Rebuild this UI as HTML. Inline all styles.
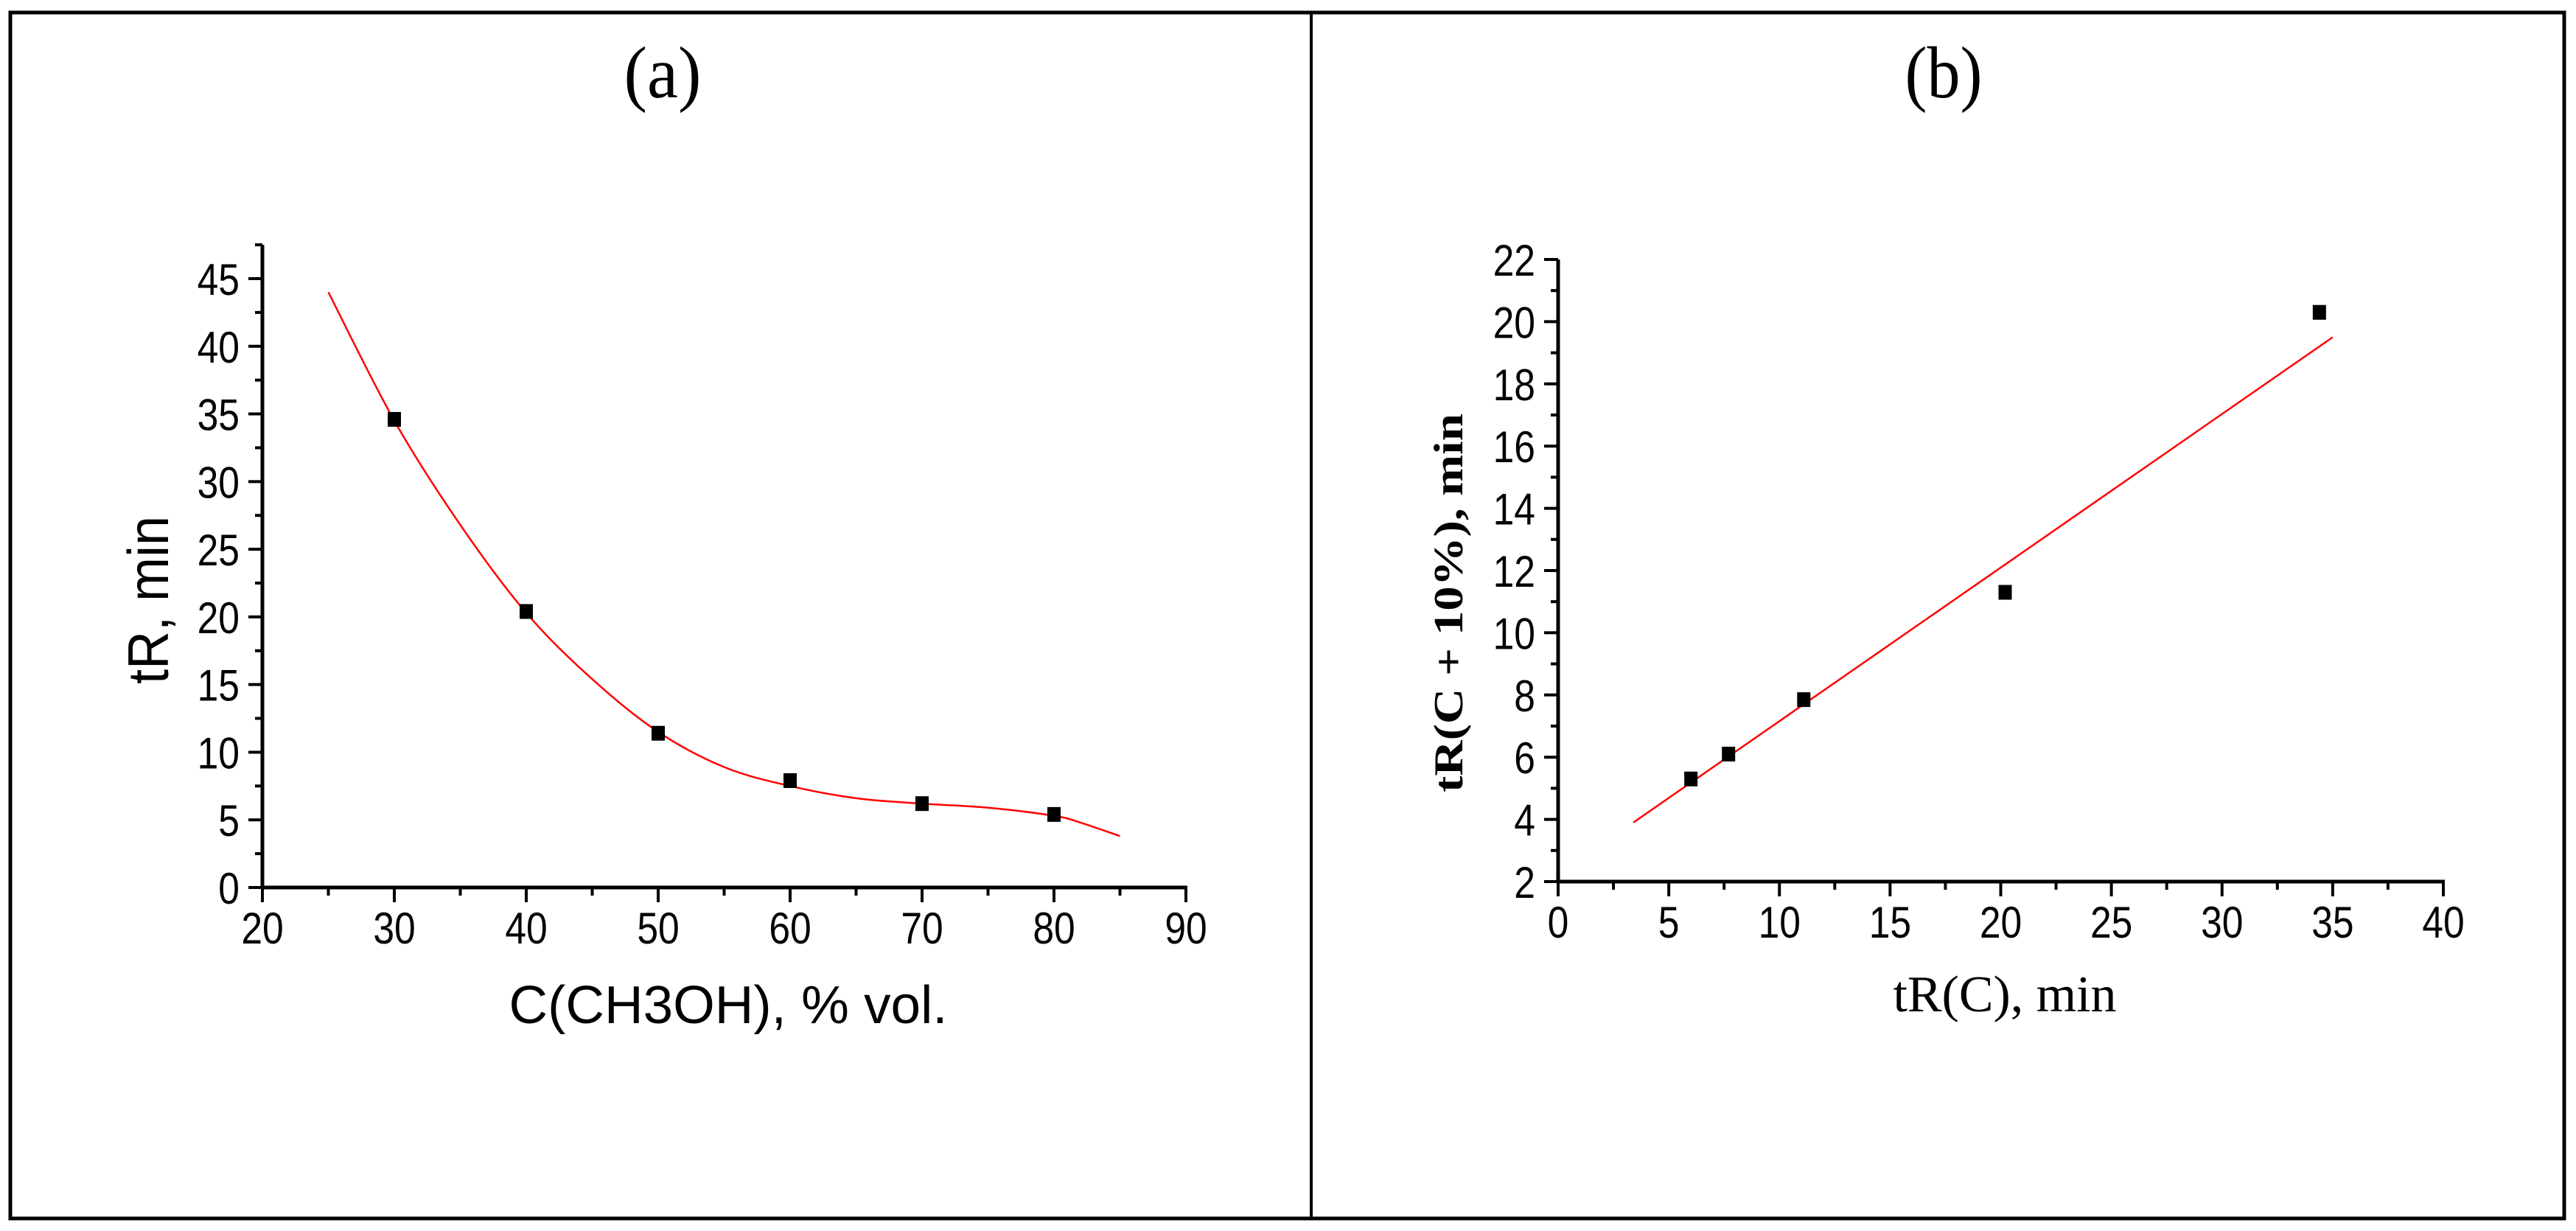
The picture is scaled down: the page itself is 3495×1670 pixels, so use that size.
<!DOCTYPE html>
<html><head><meta charset="utf-8"><style>
html,body{margin:0;padding:0;background:#fff;}
svg{display:block;}
.num{font-family:"Liberation Sans",sans-serif;font-size:60px;fill:#000;}
</style></head><body>
<svg id="fig" width="3495" height="1670" viewBox="0 0 3495 1670" xmlns="http://www.w3.org/2000/svg">
<rect x="14" y="17" width="3465" height="1636" fill="none" stroke="#000" stroke-width="5"/>
<line x1="1779" y1="17" x2="1779" y2="1653" stroke="#000" stroke-width="4"/>
<text x="899" y="132" text-anchor="middle" font-family="Liberation Serif, serif" font-size="100" textLength="105" lengthAdjust="spacingAndGlyphs">(a)</text>
<text x="2637" y="132" text-anchor="middle" font-family="Liberation Serif, serif" font-size="100" textLength="105" lengthAdjust="spacingAndGlyphs">(b)</text>
<g id="chartA"></g>
<g id="chartB"></g>
<text x="988" y="1388" text-anchor="middle" font-family="Liberation Sans, sans-serif" font-size="72" textLength="595" lengthAdjust="spacingAndGlyphs">C(CH3OH), % vol.</text>
<text transform="translate(228,814) rotate(-90)" text-anchor="middle" font-family="Liberation Sans, sans-serif" font-size="78" textLength="228" lengthAdjust="spacingAndGlyphs">tR, min</text>
<text x="2720" y="1372" text-anchor="middle" font-family="Liberation Serif, serif" font-size="70" textLength="303" lengthAdjust="spacingAndGlyphs">tR(C), min</text>
<text transform="translate(1984,818) rotate(-90)" text-anchor="middle" font-family="Liberation Serif, serif" font-weight="bold" font-size="56" textLength="514" lengthAdjust="spacingAndGlyphs">tR(C + 10%), min</text>
</svg>
<script>
// ---- chart (a) data ----
const aX = [30, 40, 50, 60, 70, 80];
const aY = [34.6, 20.4, 11.4, 7.9, 6.2, 5.4];
const aFitX = [25, 30, 35, 40, 45, 50, 55, 60, 65, 70, 75, 80, 82, 85];
const aFitY = [44.0, 34.5, 26.8, 20.3, 15.4, 11.5, 8.9, 7.5, 6.6, 6.2, 5.9, 5.3, 4.8, 3.8];
const aXTicks = [20, 30, 40, 50, 60, 70, 80, 90];
const aYTicks = [0, 5, 10, 15, 20, 25, 30, 35, 40, 45];
// ---- chart (b) data ----
const bX = [6.0, 7.7, 11.1, 20.2, 34.4];
const bY = [5.3, 6.1, 7.85, 11.3, 20.3];
const bFitX = [3.4, 35.0];
const bFitY = [3.9, 19.5];
const bXTicks = [0, 5, 10, 15, 20, 25, 30, 35, 40];
const bYTicks = [2, 4, 6, 8, 10, 12, 14, 16, 18, 20, 22];

const NS = 'http://www.w3.org/2000/svg';
function mk(parent, tag, attrs) {
  const e = document.createElementNS(NS, tag);
  for (const k in attrs) e.setAttribute(k, attrs[k]);
  parent.appendChild(e);
  return e;
}
function lin(d0, d1, r0, r1) { return v => r0 + (v - d0) * (r1 - r0) / (d1 - d0); }

function drawChart(g, cfg) {
  const sx = lin(cfg.xd[0], cfg.xd[1], cfg.xr[0], cfg.xr[1]);
  const sy = lin(cfg.yd[0], cfg.yd[1], cfg.yr[0], cfg.yr[1]);
  const x0 = cfg.xr[0], y0 = cfg.yr[0];
  const xa = mk(g, 'line', {x1: x0 - 2, y1: y0, x2: cfg.xr[1] + 2, y2: y0, stroke: '#000', 'stroke-width': 5});
  
  
  const ya = mk(g, 'line', {x1: x0, y1: y0 + 2, x2: x0, y2: sy(cfg.yTop), stroke: '#000', 'stroke-width': 5});
  
  
  const xt = cfg.xTicks;
  for (let i = 0; i < xt.length; i++) {
    const px = sx(xt[i]);
    const t = mk(g, 'line', {x1: px, y1: y0, x2: px, y2: y0 + 20, stroke: '#000', 'stroke-width': 4});
    
    
    const l = mk(g, 'text', {transform: 'translate(' + px + ',' + (y0 + 76) + ') scale(0.86,1)', 'text-anchor': 'middle', class: 'num'});
    l.textContent = String(xt[i]);
    
    
    if (i < xt.length - 1) {
      const mx = sx((xt[i] + xt[i + 1]) / 2);
      const m = mk(g, 'line', {x1: mx, y1: y0, x2: mx, y2: y0 + 11, stroke: '#000', 'stroke-width': 4});
      
      
    }
  }
  const yt = cfg.yTicks;
  for (let i = 0; i < yt.length; i++) {
    const py = sy(yt[i]);
    const t = mk(g, 'line', {x1: x0 - 19, y1: py, x2: x0, y2: py, stroke: '#000', 'stroke-width': 4});
    
    
    const l = mk(g, 'text', {transform: 'translate(' + (x0 - 31) + ',' + (py + 22) + ') scale(0.86,1)', 'text-anchor': 'end', class: 'num'});
    l.textContent = String(yt[i]);
    
    
    const nv = (i < yt.length - 1) ? (yt[i] + yt[i + 1]) / 2 : yt[i] + (yt[1] - yt[0]) / 2;
    if (nv <= cfg.yTop + 0.01) {
      const my = sy(nv);
      const m = mk(g, 'line', {x1: x0 - 10, y1: my, x2: x0, y2: my, stroke: '#000', 'stroke-width': 4});
      
      
    }
  }
  const fx = cfg.fitX, fy = cfg.fitY;
  const P = fx.map((v, i) => [sx(v), sy(fy[i])]);
  let d = 'M' + P[0][0] + ',' + P[0][1];
  if (P.length === 2) {
    d += ' L' + P[1][0] + ',' + P[1][1];
  } else {
    for (let i = 0; i < P.length - 1; i++) {
      const p0 = P[Math.max(0, i - 1)], p1 = P[i], p2 = P[i + 1], p3 = P[Math.min(P.length - 1, i + 2)];
      const c1 = [p1[0] + (p2[0] - p0[0]) / 6, p1[1] + (p2[1] - p0[1]) / 6];
      const c2 = [p2[0] - (p3[0] - p1[0]) / 6, p2[1] - (p3[1] - p1[1]) / 6];
      d += ' C' + c1[0] + ',' + c1[1] + ' ' + c2[0] + ',' + c2[1] + ' ' + p2[0] + ',' + p2[1];
    }
  }
  const c = mk(g, 'path', {d: d, fill: 'none', stroke: '#ff0000', 'stroke-width': 2.5});
  
  
  for (let i = 0; i < cfg.px.length; i++) {
    const r = mk(g, 'rect', {x: sx(cfg.px[i]) - 9, y: sy(cfg.py[i]) - 10, width: 18, height: 20, fill: '#000'});
    
    
  }
}

drawChart(document.getElementById('chartA'), {
  xd: [20, 90], xr: [356, 1609], yd: [0, 45], yr: [1204, 378], yTop: 47.5,
  xTicks: aXTicks, yTicks: aYTicks, fitX: aFitX, fitY: aFitY, px: aX, py: aY
});
drawChart(document.getElementById('chartB'), {
  xd: [0, 40], xr: [2114, 3315], yd: [2, 22], yr: [1196, 352], yTop: 22,
  xTicks: bXTicks, yTicks: bYTicks, fitX: bFitX, fitY: bFitY, px: bX, py: bY
});
</script>
</body></html>
